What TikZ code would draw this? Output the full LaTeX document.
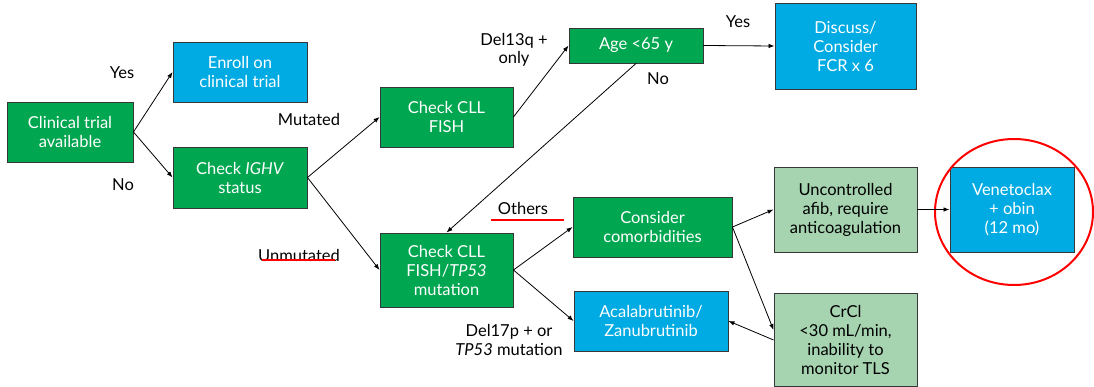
\documentclass[tikz,border=0pt]{standalone}
\usepackage{fontspec}
\setmainfont{Lato}
\usetikzlibrary{arrows.meta,calc}
\definecolor{dgreen}{RGB}{0,166,80}
\definecolor{cblue}{RGB}{0,170,226}
\definecolor{lgreen}{RGB}{166,212,176}
\definecolor{bord}{RGB}{55,55,55}
\begin{document}
\begin{tikzpicture}[x=1pt,y=-1pt,
 box/.style={draw=bord, line width=0.9pt, align=center, inner sep=0pt, font=\fontsize{16.5}{19}\selectfont},
 gbox/.style={box, fill=dgreen, text=white},
 bbox/.style={box, fill=cblue, text=white},
 lbox/.style={box, fill=lgreen, text=black},
 lab/.style={align=center, font=\fontsize{16.5}{18.5}\selectfont, inner sep=0pt},
 arr/.style={-{Latex[length=6pt,width=4.5pt]}, line width=0.8pt},
 uline/.style={red, line width=1.3pt},
]
\useasboundingbox (0,0) rectangle (1094,387);

\node[gbox, minimum width=126pt, minimum height=60pt] (ct) at (70,132) {Clinical trial\\available};
\node[bbox, minimum width=134pt, minimum height=60pt] (enroll) at (240,72) {Enroll on\\clinical trial};
\node[gbox, minimum width=134pt, minimum height=61pt] (ighv) at (240,177.5) {Check \textit{IGHV}\\status};
\node[gbox, minimum width=133pt, minimum height=60pt] (fish) at (446.5,117) {Check CLL\\FISH};
\node[gbox, minimum width=134pt, minimum height=35pt] (age) at (636,45.5) {Age <65 y};
\node[bbox, minimum width=141pt, minimum height=86pt] (disc) at (845.5,46) {Discuss/\\Consider\\FCR x 6};
\node[gbox, minimum width=133pt, minimum height=74pt] (tp53) at (446.5,270) {Check CLL\\FISH/\textit{TP53}\\mutation};
\node[gbox, minimum width=159pt, minimum height=60pt] (comorb) at (652.5,227) {Consider\\comorbidities};
\node[bbox, minimum width=154pt, minimum height=60pt] (acala) at (651,321) {Acalabrutinib/\\Zanubrutinib};
\node[lbox, minimum width=143pt, minimum height=85pt] (afib) at (845.5,209.5) {Uncontrolled\\afib, require\\anticoagulation};
\node[bbox, minimum width=124pt, minimum height=85pt] (venet) at (1012,209.5) {Venetoclax\\+ obin\\(12 mo)};
\node[lbox, minimum width=143pt, minimum height=93pt] (crcl) at (845.5,340) {CrCl\\<30 mL/min,\\inability to\\monitor TLS};

\draw[red, line width=2pt] (1014,212) ellipse [x radius=79pt, y radius=73pt];

\draw[arr] (ct.east) -- (enroll.west);
\draw[arr] (ct.east) -- (ighv.west);
\draw[arr] (ighv.east) -- (fish.west);
\draw[arr] (ighv.east) -- (tp53.west);
\draw[arr] (fish.east) -- (age.west);
\draw[arr] (age.east) -- (disc.west);
\draw[arr] (age.south) -- (tp53.north);
\draw[arr] (tp53.east) -- (comorb.west);
\draw[arr] (tp53.east) -- (acala.west);
\draw[arr] (comorb.east) -- (afib.west);
\draw[arr] (comorb.east) -- ([yshift=10pt]crcl.west);
\draw[arr] (crcl.west) -- (acala.east);
\draw[arr] (afib.east) -- (venet.west);

\node[lab] (yes1) at (122,73) {Yes};
\node[lab] (no1) at (123,185) {No};
\node[lab] (mut) at (309,119) {Mutated};
\node[lab] (unm) at (299,255) {Unmutated};
\node[lab] (del13) at (514,50) {Del13q +\\only};
\node[lab] (yes2) at (738,22) {Yes};
\node[lab] (no2) at (658,79) {No};
\node[lab] (oth) at (523,208) {Others};
\node[lab] (del17) at (509,340) {Del17p + or\\\textit{TP53} mutation};

\draw[uline] (262,260) -- (335,260);
\draw[uline] (491,220) -- (564,220);
\end{tikzpicture}
\end{document}
